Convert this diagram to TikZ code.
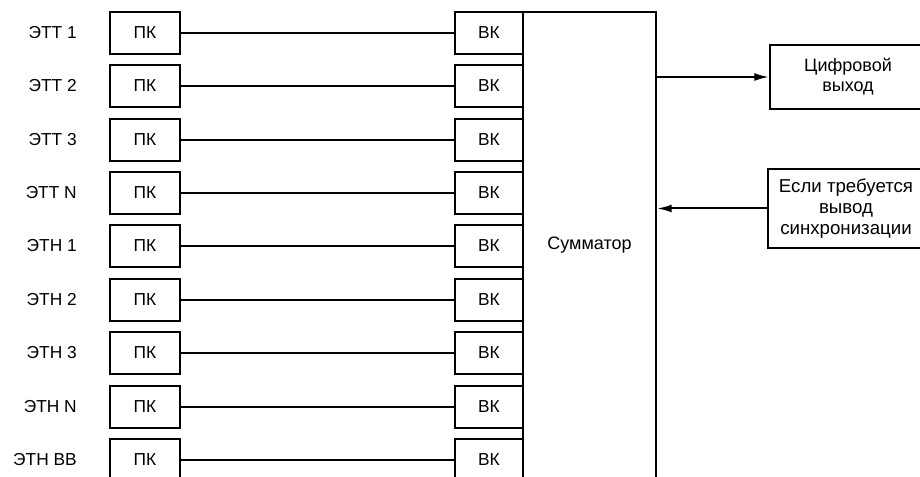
\documentclass[tikz,border=0pt]{standalone}
\usepackage{fontspec}
\setmainfont{Liberation Sans}
\usetikzlibrary{arrows.meta}
\begin{document}
\begin{tikzpicture}[x=0.75pt,y=-0.75pt,
  every node/.style={font=\fontsize{13}{15}\selectfont},
  box/.style={draw,line width=1.6pt,inner sep=0pt,align=center},
  pkbox/.style={box,minimum width=52.5pt,minimum height=31.5pt},
  bkbox/.style={box,minimum width=51pt,minimum height=31.5pt},
  wire/.style={line width=1.5pt},
  arr/.style={line width=1.5pt,-{Latex[length=11pt,width=6pt]}}]
\useasboundingbox (0,0) rectangle (920,477);
\clip (0,0) rectangle (920,477);
\foreach \i/\lab in {1/ЭТТ 1,2/ЭТТ 2,3/ЭТТ 3,4/ЭТТ N,5/ЭТН 1,6/ЭТН 2,7/ЭТН 3,8/ЭТН N,9/ЭТН ВВ}{
  \pgfmathsetmacro{\yy}{round(33+(\i-1)*53.36)}
  \node[anchor=east,inner sep=0pt] (lab\i) at (77,\yy) {\lab};
  \node[pkbox] (pk\i) at (145,\yy) {ПК};
  \node[bkbox] (bk\i) at (489,\yy) {ВК};
  \draw[wire] (pk\i.east) -- (bk\i.west);
}
\node[box,minimum width=99.75pt,minimum height=349.5pt,font=\fontsize{13.5}{15}\selectfont] (sum) at (589.5,245) {Сумматор};
\node[box,minimum width=117pt,minimum height=48pt,font=\fontsize{13.5}{15}\selectfont] (dout) at (848,77) {Цифровой\\выход};
\node[box,minimum width=117pt,minimum height=59pt,font=\fontsize{14}{15.5}\selectfont] (sync) at (846,208.5) {Если требуется\\вывод\\синхронизации};
\draw[arr] (dout.west -| sum.east) -- (dout.west);
\draw[arr] (sync.west) -- (sync.west -| sum.east);
\end{tikzpicture}
\end{document}
